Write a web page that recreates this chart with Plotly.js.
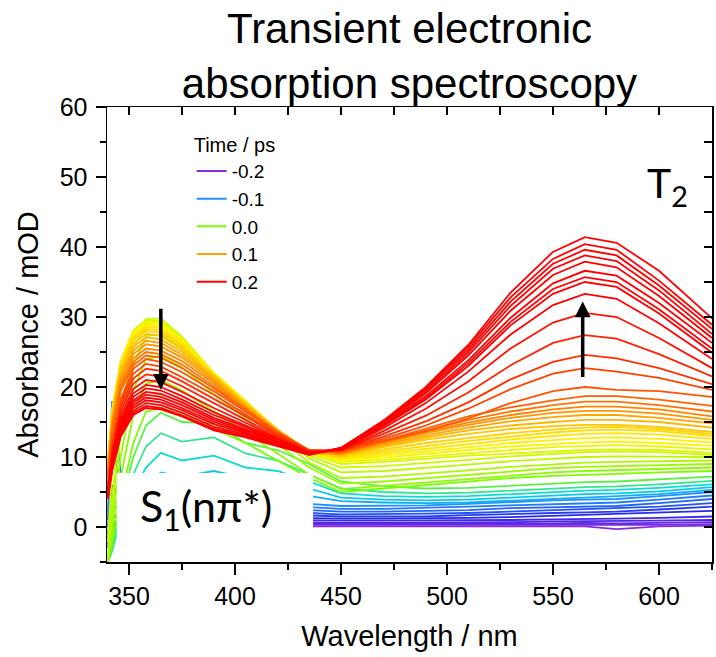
<!DOCTYPE html>
<html>
<head>
<meta charset="utf-8">
<script src="https://cdn.plot.ly/plotly-3.0.1.min.js"></script>
<style>html,body{margin:0;padding:0;background:#fff;}#chart{width:716px;height:657px;}</style>
</head>
<body>
<div id="chart"></div>
<script>
// Wavelength grid (nm)
const wavelength = [340, 342, 346, 352, 358, 365, 375, 390, 405, 420, 435, 450, 470, 490, 510, 530, 550, 565, 580, 600, 625];

// Legend
const legendLabels = ['-0.2', '-0.1', '0.0', '0.1', '0.2'];
const legendDelays = [-0.2, -0.1, 0.0, 0.1, 0.2];

// Delays (ps) for each group of spectra
const purpleDelays = [-0.20, -0.19, -0.18, -0.17, -0.16];
const blueDelays = [-0.15, -0.14, -0.13, -0.12, -0.11, -0.10];
const cyanDelays = [-0.08, -0.06, -0.045, -0.03, -0.015];
const greenDelays = [0.0, 0.006, 0.012, 0.018, 0.024, 0.03];
const yellowDelays = [0.036, 0.042, 0.048, 0.054, 0.06, 0.066, 0.072];
const orangeDelays = [0.08, 0.09, 0.10, 0.11, 0.12, 0.13, 0.14];
const redDelays = [0.15, 0.16, 0.17, 0.18, 0.19, 0.2, 0.25, 0.3, 0.4, 0.5, 0.75, 1, 2, 5];

// Absorbance (mOD) spectra
const purpleSpectra = [
  [-3.0, -0.4, -0.1, 0.0, 0.0, 0.1, 0.1, 0.0, 0.0, 0.0, 0.0, 0.0, 0.0, 0.0, 0.0, 0.1, 0.1, 0.1, -0.3, 0.1, 0.2],
  [-2.5, -0.2, 0.1, 0.2, 0.2, 0.3, 0.3, 0.2, 0.2, 0.2, 0.2, 0.2, 0.2, 0.2, 0.2, 0.3, 0.3, 0.3, 0.2, 0.3, 0.4],
  [-2.0, 0.0, 0.3, 0.4, 0.5, 0.5, 0.5, 0.5, 0.5, 0.4, 0.4, 0.4, 0.4, 0.4, 0.4, 0.5, 0.5, 0.6, 0.5, 0.6, 0.7],
  [-1.5, 0.2, 0.5, 0.6, 0.7, 0.8, 0.8, 0.7, 0.7, 0.7, 0.6, 0.6, 0.6, 0.6, 0.7, 0.7, 0.8, 0.8, 0.9, 0.9, 1.0],
  [-1.0, 0.5, 0.8, 0.9, 1.0, 1.1, 1.1, 1.0, 1.0, 1.0, 0.9, 0.9, 0.9, 0.9, 1.0, 1.0, 1.1, 1.2, 1.2, 1.3, 1.5]
];
const blueSpectra = [
  [-2.0, 0.5, 1.0, 1.2, 1.3, 1.6, 1.6, 1.5, 1.5, 1.4, 1.3, 1.2, 1.2, 1.2, 1.3, 1.4, 1.6, 1.7, 1.8, 2.0, 2.3],
  [-1.5, 1.5, 1.5, 1.5, 1.6, 2.0, 2.0, 1.9, 1.9, 1.8, 1.6, 1.5, 1.5, 1.5, 1.7, 1.8, 2.0, 2.1, 2.2, 2.5, 2.9],
  [-1.0, 3.0, 2.5, 2.0, 2.0, 2.4, 2.5, 2.4, 2.3, 2.2, 2.0, 1.8, 1.8, 1.9, 2.0, 2.2, 2.4, 2.5, 2.6, 2.9, 3.4],
  [0.0, 6.0, 4.0, 2.5, 2.5, 3.0, 3.0, 2.9, 2.8, 2.7, 2.4, 2.2, 2.2, 2.3, 2.4, 2.7, 2.8, 2.9, 3.0, 3.4, 4.0],
  [1.0, 12.0, 6.0, 3.0, 3.0, 3.5, 3.6, 3.5, 3.3, 3.1, 2.9, 2.6, 2.6, 2.7, 2.9, 3.1, 3.3, 3.4, 3.5, 3.9, 4.5],
  [2.0, 18.0, 8.0, 4.0, 3.5, 4.0, 4.2, 4.0, 3.8, 3.6, 3.3, 3.0, 3.0, 3.1, 3.3, 3.6, 3.8, 3.9, 4.0, 4.4, 5.0]
];
const cyanSpectra = [
  [-3.0, -1.0, 0.0, 2.0, 4.0, 5.5, 5.5, 6.0, 5.5, 5.2, 4.5, 3.7, 3.5, 3.4, 3.5, 3.8, 4.0, 4.2, 4.4, 4.7, 5.3],
  [-4.0, -2.0, 0.0, 3.0, 6.0, 7.8, 7.2, 8.0, 7.0, 6.5, 5.5, 4.2, 3.9, 3.8, 3.9, 4.2, 4.5, 4.7, 4.8, 5.1, 5.7],
  [-4.5, -3.0, 0.5, 5.0, 8.5, 10.6, 9.5, 10.2, 8.5, 8.0, 6.5, 4.8, 4.4, 4.3, 4.4, 4.7, 5.0, 5.2, 5.3, 5.6, 6.1],
  [-5.0, -3.5, 1.5, 7.5, 11.5, 13.4, 12.2, 12.8, 10.5, 9.5, 7.5, 5.5, 5.0, 4.8, 4.9, 5.2, 5.5, 5.7, 5.8, 6.1, 6.6],
  [-5.0, -3.0, 3.0, 10.0, 14.5, 16.3, 15.0, 14.8, 12.0, 11.0, 9.0, 6.5, 5.8, 5.5, 5.6, 5.9, 6.2, 6.4, 6.5, 6.8, 7.2]
];
const greenSpectra = [
  [-5.0, -2.0, 4.0, 12.0, 16.5, 17.0, 16.0, 14.0, 12.0, 9.5, 7.0, 5.0, 5.5, 6.0, 6.5, 7.0, 7.3, 7.5, 7.6, 7.8, 8.0],
  [-5.0, -1.0, 7.0, 16.0, 20.5, 21.0, 19.5, 16.5, 13.5, 10.5, 7.5, 5.4, 5.9, 6.4, 6.9, 7.4, 7.8, 8.0, 8.1, 8.3, 8.5],
  [-5.0, 0.5, 10.0, 19.5, 24.0, 24.5, 22.8, 19.0, 15.5, 11.8, 8.5, 6.2, 6.5, 7.0, 7.5, 8.0, 8.4, 8.6, 8.7, 8.8, 9.0],
  [-5.0, 2.0, 13.0, 23.0, 27.3, 27.5, 25.5, 21.0, 17.0, 12.8, 9.2, 7.0, 7.2, 7.6, 8.1, 8.6, 9.0, 9.2, 9.3, 9.4, 9.5],
  [-4.5, 4.0, 16.0, 25.5, 29.0, 29.2, 26.8, 21.8, 17.8, 13.5, 9.8, 7.8, 8.0, 8.4, 8.9, 9.4, 9.8, 10.0, 10.1, 10.1, 10.0],
  [-2.0, 8.0, 19.5, 27.0, 29.7, 29.8, 27.2, 22.0, 18.0, 13.7, 10.2, 8.5, 8.7, 9.1, 9.6, 10.1, 10.5, 10.7, 10.8, 10.7, 10.3]
];
const yellowSpectra = [
  [9.0, 16.6, 23.6, 28.1, 29.6, 29.4, 27.0, 22.0, 18.0, 13.8, 10.5, 9.0, 9.3, 9.8, 10.2, 10.5, 10.8, 11.0, 11.1, 11.0, 10.6],
  [9.1, 16.6, 23.6, 28.0, 29.4, 29.2, 26.9, 22.0, 17.9, 13.8, 10.6, 9.3, 9.6, 10.1, 10.6, 11.0, 11.4, 11.6, 11.7, 11.5, 11.1],
  [9.1, 16.5, 23.5, 27.9, 29.2, 29.0, 26.7, 21.9, 17.9, 13.9, 10.6, 9.5, 9.9, 10.5, 11.0, 11.5, 11.9, 12.1, 12.2, 12.0, 11.6],
  [9.0, 16.4, 23.3, 27.6, 28.9, 28.7, 26.5, 21.8, 17.8, 13.9, 10.6, 9.7, 10.2, 10.8, 11.4, 12.0, 12.4, 12.7, 12.8, 12.6, 12.1],
  [8.9, 16.3, 23.1, 27.3, 28.6, 28.4, 26.3, 21.7, 17.8, 13.9, 10.7, 9.8, 10.5, 11.2, 11.9, 12.5, 13.0, 13.3, 13.4, 13.2, 12.6],
  [8.8, 16.2, 22.9, 27.0, 28.3, 28.1, 26.0, 21.6, 17.7, 13.9, 10.7, 10.0, 10.8, 11.6, 12.3, 12.9, 13.5, 13.8, 13.9, 13.7, 13.0],
  [8.7, 16.0, 22.8, 26.7, 28.0, 27.8, 25.8, 21.6, 17.7, 13.9, 10.8, 10.1, 11.1, 12.0, 12.7, 13.4, 13.9, 14.2, 14.3, 14.0, 13.3]
];
const orangeSpectra = [
  [8.6, 15.8, 22.6, 26.2, 27.6, 27.3, 25.4, 21.7, 17.6, 13.9, 10.8, 10.2, 11.4, 12.5, 13.3, 14.0, 14.4, 14.6, 14.6, 14.3, 13.6],
  [8.4, 15.4, 22.1, 25.7, 27.1, 26.8, 25.0, 21.4, 17.4, 13.8, 10.8, 10.3, 11.6, 12.8, 13.8, 14.5, 15.0, 15.3, 15.3, 15.0, 14.2],
  [8.2, 15.1, 21.6, 25.2, 26.6, 26.3, 24.6, 21.1, 17.3, 13.8, 10.8, 10.4, 11.8, 13.1, 14.2, 15.1, 15.7, 16.0, 16.0, 15.6, 14.8],
  [8.0, 14.7, 21.1, 24.7, 26.1, 25.8, 24.2, 20.8, 17.1, 13.7, 10.8, 10.4, 12.0, 13.4, 14.6, 15.6, 16.3, 16.6, 16.6, 16.2, 15.3],
  [7.7, 14.3, 20.5, 24.1, 25.5, 25.2, 23.7, 20.5, 16.9, 13.6, 10.8, 10.5, 12.1, 13.6, 14.9, 16.0, 16.8, 17.2, 17.2, 16.8, 15.8],
  [7.4, 13.9, 20.0, 23.6, 25.0, 24.7, 23.2, 20.1, 16.8, 13.6, 10.9, 10.6, 12.2, 13.8, 15.3, 16.5, 17.4, 17.9, 17.9, 17.4, 16.5],
  [7.0, 13.4, 19.4, 23.1, 24.5, 24.2, 22.7, 19.8, 16.7, 13.6, 11.0, 10.7, 12.3, 14.1, 15.8, 17.1, 18.1, 18.7, 18.7, 18.2, 17.3]
];
const redSpectra = [
  [6.0, 12.0, 18.2, 22.6, 24.0, 23.6, 22.1, 19.4, 16.5, 13.5, 11.0, 10.8, 12.3, 13.7, 15.5, 17.7, 19.4, 20.0, 19.6, 19.4, 18.6],
  [5.8, 11.6, 17.7, 21.9, 23.3, 22.9, 21.4, 18.9, 16.1, 13.3, 10.9, 10.9, 12.6, 14.5, 16.9, 19.7, 21.9, 22.7, 22.2, 21.3, 19.6],
  [5.6, 11.2, 17.2, 21.2, 22.6, 22.3, 20.8, 18.3, 15.8, 13.1, 10.9, 10.9, 12.9, 15.1, 17.8, 21.1, 23.6, 24.6, 24.1, 22.7, 20.4],
  [5.4, 10.7, 16.6, 20.5, 21.8, 21.5, 20.1, 17.7, 15.3, 12.9, 10.8, 11.0, 13.3, 15.9, 19.2, 23.1, 26.3, 27.4, 26.9, 24.7, 21.5],
  [5.2, 10.3, 16.0, 19.7, 21.0, 20.7, 19.3, 17.0, 14.9, 12.7, 10.7, 11.0, 13.7, 16.9, 20.8, 25.5, 29.2, 30.6, 30.0, 27.0, 22.7],
  [5.0, 9.9, 15.4, 19.1, 20.3, 20.0, 18.7, 16.4, 14.5, 12.5, 10.6, 11.1, 14.1, 17.7, 22.2, 27.5, 31.7, 33.3, 32.6, 29.1, 24.0],
  [4.8, 9.6, 15.0, 18.6, 19.8, 19.5, 18.2, 16.0, 14.3, 12.3, 10.6, 11.1, 14.4, 18.2, 23.0, 28.8, 33.3, 35.0, 34.3, 30.5, 24.9],
  [4.7, 9.3, 14.7, 18.1, 19.3, 19.0, 17.8, 15.6, 14.0, 12.2, 10.5, 11.1, 14.5, 18.4, 23.4, 29.3, 34.0, 35.7, 35.0, 31.1, 25.5],
  [4.6, 9.1, 14.4, 17.8, 18.9, 18.6, 17.4, 15.3, 13.8, 12.1, 10.5, 11.2, 14.6, 18.7, 23.8, 29.9, 34.8, 36.6, 35.9, 32.0, 26.3],
  [4.4, 8.9, 14.1, 17.4, 18.5, 18.2, 17.0, 15.0, 13.6, 11.9, 10.5, 11.2, 14.8, 19.1, 24.5, 30.9, 36.0, 37.9, 37.1, 33.0, 27.0],
  [4.3, 8.6, 13.8, 17.0, 18.1, 17.8, 16.7, 14.7, 13.4, 11.8, 10.4, 11.2, 14.9, 19.3, 24.9, 31.6, 36.9, 38.8, 38.0, 33.8, 27.6],
  [4.2, 8.4, 13.5, 16.6, 17.7, 17.4, 16.3, 14.3, 13.2, 11.7, 10.4, 11.3, 15.0, 19.6, 25.3, 32.2, 37.6, 39.6, 38.8, 34.5, 28.3],
  [4.1, 8.2, 13.1, 16.3, 17.3, 17.0, 15.9, 14.0, 13.0, 11.6, 10.3, 11.3, 15.1, 19.8, 25.7, 32.8, 38.3, 40.4, 39.6, 35.2, 28.9],
  [4.0, 8.0, 12.9, 16.0, 17.0, 16.8, 15.8, 13.8, 12.8, 11.5, 10.3, 11.3, 15.2, 20.0, 26.0, 33.5, 39.3, 41.4, 40.6, 36.6, 29.8]
];

// Rainbow colour map by delay
const colorStops = [
  [-0.20, [138, 43, 226]],
  [-0.15, [40, 40, 235]],
  [-0.10, [30, 144, 255]],
  [-0.05, [0, 215, 235]],
  [0.00, [124, 252, 0]],
  [0.05, [255, 245, 0]],
  [0.10, [255, 165, 0]],
  [0.20, [255, 0, 0]]
];
function delayColor(t) {
  if (t <= colorStops[0][0]) return 'rgb(' + colorStops[0][1].join(',') + ')';
  for (let i = 1; i < colorStops.length; i++) {
    if (t <= colorStops[i][0]) {
      const [t0, c0] = colorStops[i - 1];
      const [t1, c1] = colorStops[i];
      const f = (t - t0) / (t1 - t0);
      const c = c0.map((v, k) => Math.round(v + (c1[k] - v) * f));
      return 'rgb(' + c.join(',') + ')';
    }
  }
  return 'rgb(' + colorStops[colorStops.length - 1][1].join(',') + ')';
}

const groups = [
  [purpleDelays, purpleSpectra],
  [blueDelays, blueSpectra],
  [cyanDelays, cyanSpectra],
  [greenDelays, greenSpectra],
  [yellowDelays, yellowSpectra],
  [orangeDelays, orangeSpectra],
  [redDelays, redSpectra]
];

const traces = [];
groups.forEach(([delays, spectra]) => {
  spectra.forEach((row, i) => {
    traces.push({
      type: 'scatter', mode: 'lines',
      x: wavelength, y: row,
      line: {color: delayColor(delays[i]), width: 1.8},
      showlegend: false, hoverinfo: 'skip',
      name: delays[i] + ' ps'
    });
  });
});
legendLabels.forEach((lab, i) => {
  traces.push({
    type: 'scatter', mode: 'lines',
    x: [null], y: [null], xaxis: 'x2', yaxis: 'y2',
    name: lab, line: {color: delayColor(legendDelays[i]), width: 2},
    showlegend: true
  });
});

const FONT = 'Liberation Sans, Arial, sans-serif';
const xRange = [339.6, 625];
const yRange = [-5, 60];

const layout = {
  width: 716, height: 657,
  margin: {l: 107, r: 4, t: 107, b: 95},
  paper_bgcolor: '#fff', plot_bgcolor: '#fff',
  font: {family: FONT, color: '#000'},
  title: {
    text: 'Transient electronic<br>absorption spectroscopy',
    font: {size: 42, family: FONT, color: '#000'},
    x: 0.5, xref: 'paper', xanchor: 'center',
    y: 0.934, yref: 'container', yanchor: 'top'
  },
  xaxis: {
    range: xRange, tick0: 350, dtick: 50,
    ticks: 'outside', ticklen: 11, tickwidth: 1.5, tickcolor: '#000',
    ticklabelstandoff: 0,
    minor: {dtick: 25, tick0: 350, ticks: 'outside', ticklen: 6, tickwidth: 1.5, tickcolor: '#000'},
    showline: true, linewidth: 1.5, linecolor: '#000',
    showgrid: false, zeroline: false,
    tickfont: {size: 25, family: FONT},
    title: {text: 'Wavelength / nm', font: {size: 29, family: FONT}, standoff: 17}
  },
  yaxis: {
    range: yRange, tick0: 0, dtick: 10,
    ticks: 'outside', ticklen: 10, tickwidth: 1.5, tickcolor: '#000',
    ticklabelstandoff: 3,
    minor: {dtick: 5, tick0: 0, ticks: 'outside', ticklen: 6, tickwidth: 1.5, tickcolor: '#000'},
    showline: true, linewidth: 1.5, linecolor: '#000',
    showgrid: false, zeroline: false,
    tickfont: {size: 25, family: FONT},
    title: {text: 'Absorbance / mOD', font: {size: 29, family: FONT}, standoff: 12}
  },
  xaxis2: {
    overlaying: 'x', side: 'top', range: xRange, tick0: 350, dtick: 25,
    ticks: 'inside', ticklen: 8, tickwidth: 1.5, tickcolor: '#000',
    showticklabels: false, showline: true, linewidth: 1.5, linecolor: '#000',
    showgrid: false, zeroline: false
  },
  yaxis2: {
    overlaying: 'y', side: 'right', range: yRange, tick0: 0, dtick: 5,
    ticks: 'inside', ticklen: 8, tickwidth: 1.5, tickcolor: '#000',
    showticklabels: false, showline: true, linewidth: 1.5, linecolor: '#000',
    showgrid: false, zeroline: false
  },
  legend: {
    x: 0.14, y: 0.958, xanchor: 'left', yanchor: 'top',
    bgcolor: 'rgba(0,0,0,0)', borderwidth: 0,
    font: {size: 19, family: FONT, color: '#000'},
    title: {text: 'Time / ps', font: {size: 20, family: FONT, color: '#000'}},
    tracegroupgap: 0
  },
  shapes: [{
    type: 'rect', xref: 'x', yref: 'y',
    x0: 344.2, x1: 436.8, y0: -3.0, y1: 7.7,
    fillcolor: '#fff', line: {width: 0}, layer: 'above'
  }],
  annotations: [
    {
      xref: 'x', yref: 'y', x: 386.5, y: 2.6,
      text: 'S<sub>1</sub>(nπ*)', showarrow: false,
      font: {size: 43, family: 'Lato, Noto Sans, sans-serif', color: '#000'}
    },
    {
      xref: 'x', yref: 'y', x: 604, y: 48.8,
      text: 'T<sub>2</sub>', showarrow: false,
      font: {size: 41, family: 'Lato, Noto Sans, sans-serif', color: '#000'}
    },
    {
      xref: 'x', yref: 'y', x: 365, y: 19.6, axref: 'x', ayref: 'y', ax: 365, ay: 31.4,
      text: '', showarrow: true, arrowhead: 2, arrowsize: 0.9, arrowwidth: 3.5, arrowcolor: '#000'
    },
    {
      xref: 'x', yref: 'y', x: 564, y: 32.2, axref: 'x', ayref: 'y', ax: 564, ay: 21.2,
      text: '', showarrow: true, arrowhead: 2, arrowsize: 0.9, arrowwidth: 3.5, arrowcolor: '#000'
    }
  ]
};

Plotly.newPlot('chart', traces, layout, {staticPlot: true, displayModeBar: false});
</script>
</body>
</html>
